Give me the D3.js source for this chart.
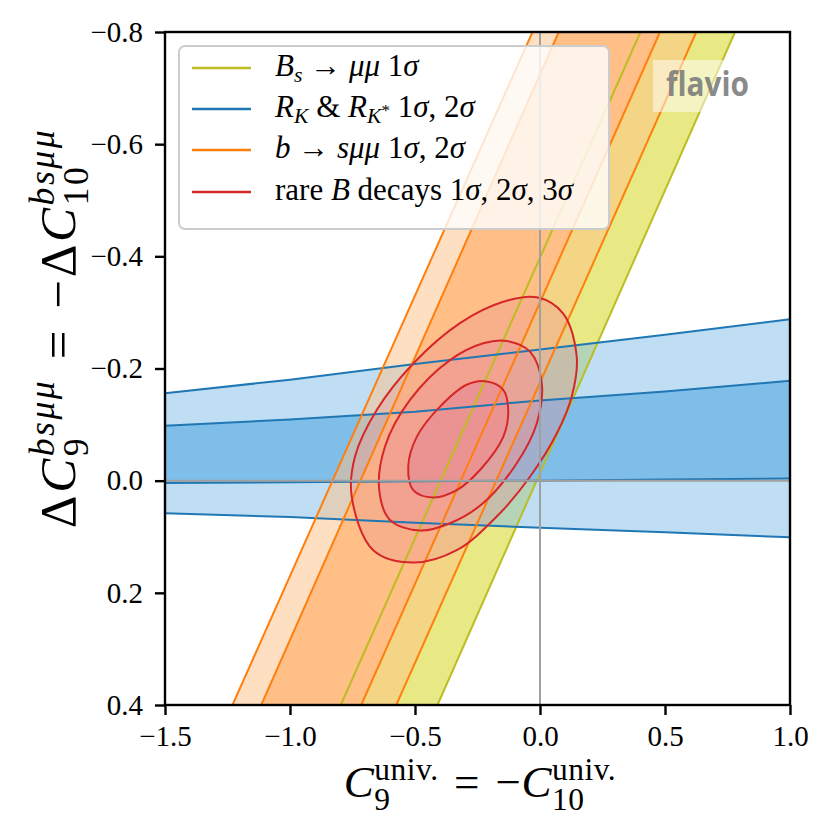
<!DOCTYPE html>
<html>
<head>
<meta charset="utf-8">
<script src="https://cdn.jsdelivr.net/npm/d3@7"></script>
<style>
  html, body { margin: 0; padding: 0; background: #fff; }
  svg { display: block; }
  text.serif { font-family: "Liberation Serif", "DejaVu Serif", serif; fill: #000; }
</style>
</head>
<body>
<svg id="chart" width="830" height="830"></svg>
<script>
// axis ticks
const xTicks = [-1.5, -1.0, -0.5, 0.0, 0.5, 1.0];
const yTicks = [-0.8, -0.6, -0.4, -0.2, 0.0, 0.2, 0.4];

// straight bands: C9 of each edge at dC9 = 0.4 (bottom) and dC9 = -0.8 (top)
const edgeY = [0.4, -0.8];
const bsLeft = [-0.797, 0.402];
const bsRight = [-0.41, 0.78];
const bsmmLeft2 = [-1.23, -0.03];
const bsmmRight2 = [-0.575, 0.625];
const bsmmLeft1 = [-1.115, 0.075];
const bsmmRight1 = [-0.715, 0.48];

// R_K & R_K* band, edges sampled along C9
const rkX = [-1.5, -1.0, -0.5, 0.0, 0.5, 1.0];
const rkUpper2 = [-0.156, -0.180, -0.208, -0.234, -0.260, -0.288];
const rkUpper1 = [-0.098, -0.109, -0.123, -0.143, -0.159, -0.178];
const rkLower1 = [0.004, 0.003, 0.001, 0.000, -0.002, -0.004];
const rkLower2 = [0.058, 0.065, 0.075, 0.084, 0.092, 0.101];

// rare B decays contours, [C9, dC9]
const global1 = [[-0.213, -0.177], [-0.147, -0.162], [-0.127, -0.126], [-0.147, -0.078],
  [-0.240, -0.019], [-0.333, 0.017], [-0.427, 0.030], [-0.507, 0.017], [-0.527, -0.025],
  [-0.493, -0.078], [-0.400, -0.132], [-0.293, -0.171]];
const global2 = [[-0.133, -0.249], [-0.040, -0.230], [0.007, -0.174], [-0.013, -0.102],
  [-0.093, -0.031], [-0.227, 0.040], [-0.360, 0.076], [-0.480, 0.089], [-0.600, 0.070],
  [-0.643, 0.017], [-0.620, -0.061], [-0.520, -0.144], [-0.360, -0.215], [-0.227, -0.245]];
const global3 = [[-0.013, -0.327], [0.093, -0.298], [0.147, -0.221], [0.127, -0.150],
  [0.067, -0.084], [-0.040, -0.007], [-0.173, 0.064], [-0.333, 0.124], [-0.507, 0.146],
  [-0.667, 0.124], [-0.753, 0.029], [-0.740, -0.043], [-0.653, -0.126], [-0.507, -0.209],
  [-0.320, -0.281], [-0.147, -0.319]];

const legendColors = ['#bcbd22', '#1f77b4', '#ff7f0e', '#d62728'];
const legendLabels = [
  [{t: 'B', it: 1}, {t: 's', it: 1, k: 0.7, dy: 0.2}, {t: ' → '}, {t: 'μμ', it: 1}, {t: ' 1'}, {t: 'σ', it: 1}],
  [{t: 'R', it: 1}, {t: 'K', it: 1, k: 0.7, dy: 0.2}, {t: ' & '}, {t: 'R', it: 1},
   {t: 'K', it: 1, k: 0.7, dy: 0.2}, {t: '*', k: 0.55, dy: -0.02}, {t: ' 1'}, {t: 'σ', it: 1}, {t: ', 2'}, {t: 'σ', it: 1}],
  [{t: 'b', it: 1}, {t: ' → '}, {t: 'sμμ', it: 1}, {t: ' 1'}, {t: 'σ', it: 1}, {t: ', 2'}, {t: 'σ', it: 1}],
  [{t: 'rare '}, {t: 'B', it: 1}, {t: ' decays 1'}, {t: 'σ', it: 1}, {t: ', 2'}, {t: 'σ', it: 1}, {t: ', 3'}, {t: 'σ', it: 1}]
];
const xLabel = [{t: 'C', it: 1}, {t: '9', k: 0.7, dy: 0.28}, {t: 'univ.', k: 0.7, dy: -0.38, back: 1},
  {t: '\u2004=\u2004−'}, {t: 'C', it: 1}, {t: '10', k: 0.7, dy: 0.28}, {t: 'univ.', k: 0.7, dy: -0.38, back: 1}];
const yLabel = [{t: 'Δ'}, {t: 'C', it: 1}, {t: '9', k: 0.7, dy: 0.26}, {t: 'bsμμ', it: 1, k: 0.7, dy: -0.42, back: 1},
  {t: '\u2004=\u2004−Δ'}, {t: 'C', it: 1}, {t: '10', k: 0.7, dy: 0.26}, {t: 'bsμμ', it: 1, k: 0.7, dy: -0.42, back: 1}];

const svg = d3.select('#chart');
const x = d3.scaleLinear().domain([-1.5, 1.0]).range([165, 790]);
const y = d3.scaleLinear().domain([-0.8, 0.4]).range([32, 705]);

svg.append('defs').append('clipPath').attr('id', 'plot-clip')
  .append('rect').attr('x', 165).attr('y', 32).attr('width', 625).attr('height', 673);

const plot = svg.append('g').attr('clip-path', 'url(#plot-clip)');

const line = d3.line().x(d => x(d[0])).y(d => y(d[1]));
const contour = d3.line().x(d => x(d[0])).y(d => y(d[1])).curve(d3.curveCatmullRomClosed.alpha(0.5));

const straightEdge = xs => xs.map((v, i) => [v, edgeY[i]]);
const strip = (l, r) => straightEdge(l).concat(straightEdge(r).reverse());
const rkEdge = vals => rkX.map((v, i) => [v, vals[i]]);
const rkStrip = (a, b) => rkEdge(a).concat(rkEdge(b).reverse());
const poly = pts => line(pts) + 'Z';

function fill(d, color, opacity) {
  plot.append('path').attr('d', d).attr('fill', color)
    .attr('fill-opacity', opacity).attr('fill-rule', 'evenodd').attr('stroke', 'none');
}
function stroke(d, color) {
  plot.append('path').attr('d', d).attr('fill', 'none')
    .attr('stroke', color).attr('stroke-width', 2);
}

// filled regions (lightened colours, alpha falling off for outer levels)
fill(poly(strip(bsLeft, bsRight)), 'rgb(232,233,133)', 1);

fill(poly(rkStrip(rkUpper2, rkLower2)) + poly(rkStrip(rkUpper1, rkLower1)), 'rgb(127,190,233)', 0.5);
fill(poly(rkStrip(rkUpper1, rkLower1)), 'rgb(127,190,233)', 1);

fill(poly(strip(bsmmLeft2, bsmmRight2)) + poly(strip(bsmmLeft1, bsmmRight1)), 'rgb(255,191,134)', 0.5);
fill(poly(strip(bsmmLeft1, bsmmRight1)), 'rgb(255,191,134)', 1);

fill(contour(global3) + contour(global2), 'rgb(235,147,147)', 1 / 3);
fill(contour(global2) + contour(global1), 'rgb(235,147,147)', 2 / 3);
fill(contour(global1), 'rgb(235,147,147)', 1);

// contour lines
[bsLeft, bsRight].forEach(e => stroke(line(straightEdge(e)), legendColors[0]));
[rkUpper2, rkUpper1, rkLower1, rkLower2].forEach(e => stroke(line(rkEdge(e)), legendColors[1]));
[bsmmLeft2, bsmmLeft1, bsmmRight1, bsmmRight2].forEach(e => stroke(line(straightEdge(e)), legendColors[2]));
[global3, global2, global1].forEach(c => stroke(contour(c), legendColors[3]));

// SM reference lines
plot.append('line').attr('x1', x(0)).attr('x2', x(0)).attr('y1', 32).attr('y2', 705)
  .attr('stroke', '#a0a0a0').attr('stroke-width', 2);
plot.append('line').attr('x1', 165).attr('x2', 790).attr('y1', y(0)).attr('y2', y(0))
  .attr('stroke', '#a0a0a0').attr('stroke-width', 2);

// axes
const fmt = d3.format('.1f');
const xAxis = svg.append('g').attr('transform', 'translate(0,705)')
  .call(d3.axisBottom(x).tickValues(xTicks).tickSize(10).tickPadding(10).tickFormat(fmt));
const yAxis = svg.append('g').attr('transform', 'translate(165,0)')
  .call(d3.axisLeft(y).tickValues(yTicks).tickSize(10).tickPadding(12).tickFormat(fmt));
[xAxis, yAxis].forEach(a => {
  a.select('.domain').remove();
  a.selectAll('line').attr('stroke', '#000').attr('stroke-width', 2.4);
  a.selectAll('text').attr('class', 'serif').attr('font-size', 29).attr('fill', '#000');
});

svg.append('rect').attr('x', 165).attr('y', 32).attr('width', 625).attr('height', 673)
  .attr('fill', 'none').attr('stroke', '#000').attr('stroke-width', 2.4);

// rich text with sub/superscripts
function richText(text, parts, size) {
  let cur = 0, prev = null;
  text.attr('class', 'serif');
  parts.forEach(p => {
    const shift = (p.dy || 0) * size;
    const ts = text.append('tspan').text(p.t)
      .attr('dy', shift - cur).attr('font-size', size * (p.k || 1));
    if (p.it) ts.attr('font-style', 'italic');
    if (p.back && prev) ts.attr('dx', -prev.node().getComputedTextLength());
    cur = shift;
    prev = ts;
  });
  return text;
}

richText(svg.append('text').attr('x', 480).attr('y', 797).attr('text-anchor', 'middle')
  .style('letter-spacing', '0.5px'), xLabel, 45);
richText(svg.append('text').attr('transform', 'translate(75,328) rotate(-90)')
  .attr('text-anchor', 'middle').style('letter-spacing', '2.5px'), yLabel, 51);

// flavio watermark
svg.append('rect').attr('x', 653).attr('y', 60).attr('width', 110).attr('height', 52)
  .attr('fill', '#fff').attr('fill-opacity', 0.5);
svg.append('text').attr('x', 666).attr('y', 96).text('flavio')
  .style('font-family', '"Open Sans", "DejaVu Sans", sans-serif').style('font-weight', 700)
  .attr('font-size', 34).attr('textLength', 83).attr('lengthAdjust', 'spacingAndGlyphs')
  .style('fill', '#7a7a7a').style('fill-opacity', 0.9);

// legend
const legendRows = [68, 109, 150, 192];
const legend = svg.append('g');
legend.append('rect').attr('x', 179).attr('y', 46).attr('width', 430).attr('height', 183)
  .attr('rx', 6).attr('fill', '#fff').attr('fill-opacity', 0.8)
  .attr('stroke', '#cccccc').attr('stroke-width', 2);
legendLabels.forEach((parts, i) => {
  legend.append('line').attr('x1', 192).attr('x2', 251)
    .attr('y1', legendRows[i]).attr('y2', legendRows[i])
    .attr('stroke', legendColors[i]).attr('stroke-width', 2.4);
  richText(legend.append('text').attr('x', 275).attr('y', legendRows[i] + 8), parts, 31);
});
</script>
</body>
</html>
